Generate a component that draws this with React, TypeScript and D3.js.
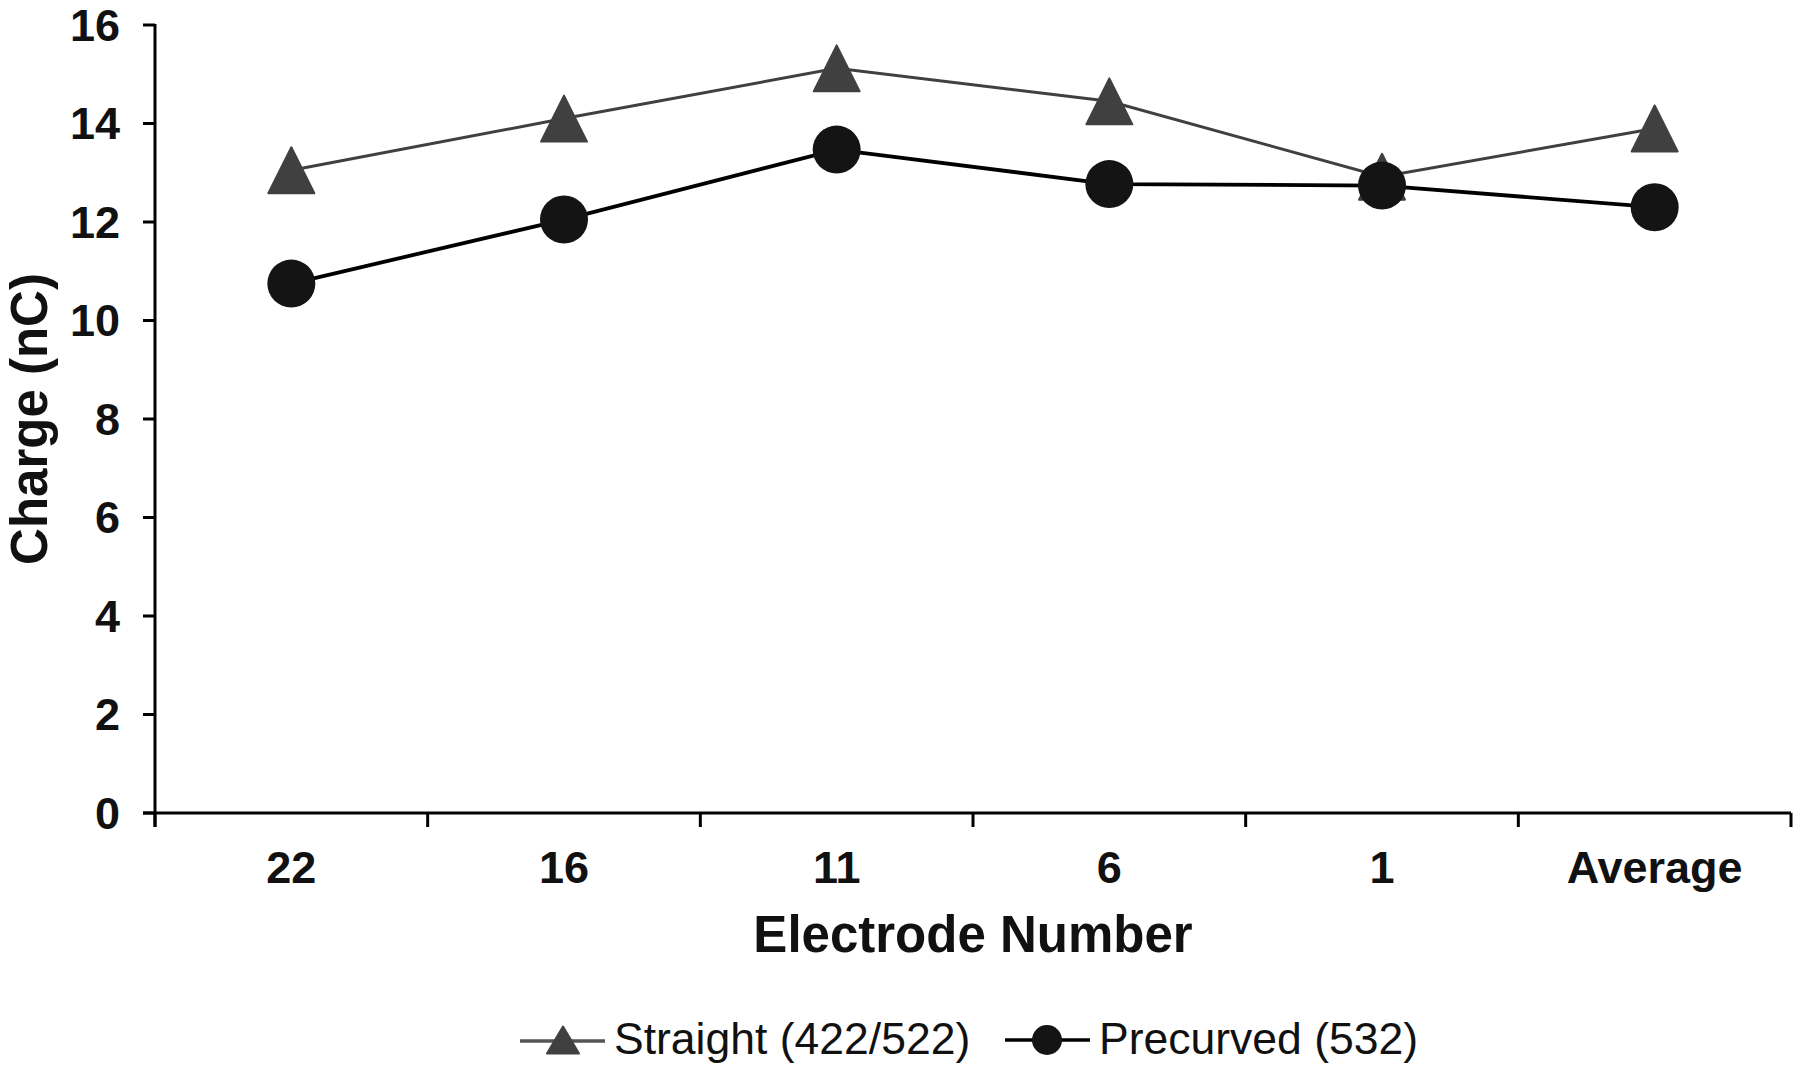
import React from "react";
import * as d3 from "d3";

const categories = ["22", "16", "11", "6", "1", "Average"];
const straightValues = [13.05, 14.1, 15.12, 14.45, 12.92, 13.9];
const precurvedValues = [10.75, 12.05, 13.47, 12.77, 12.74, 12.3];
const yTicks = [0, 2, 4, 6, 8, 10, 12, 14, 16];
const seriesNames = ["Straight (422/522)", "Precurved (532)"];

const W = 1800;
const H = 1070;
const left = 155;
const right = 1791;
const top = 25;
const bottom = 813;

const FONT = "'Liberation Sans', Arial, Helvetica, sans-serif";
const STRAIGHT_COLOR = "#404040";
const PRECURVED_COLOR = "#141414";

function trianglePath(cx: number, cy: number, hw: number, hh: number) {
  return `M${cx},${cy - hh} L${cx + hw},${cy + hh} L${cx - hw},${cy + hh} Z`;
}

export default function App() {
  const x = d3.scaleBand<string>().domain(categories).range([left, right]).padding(0);
  const y = d3.scaleLinear().domain([0, 16]).range([bottom, top]);
  const cx = (c: string) => (x(c) as number) + x.bandwidth() / 2;

  const line = d3
    .line<[string, number]>()
    .x((d) => cx(d[0]))
    .y((d) => y(d[1]));

  const sData: [string, number][] = categories.map((c, i) => [c, straightValues[i]]);
  const pData: [string, number][] = categories.map((c, i) => [c, precurvedValues[i]]);

  const boundaries = [...categories.map((c) => x(c) as number), right];

  return (
    <svg
      width={W}
      height={H}
      style={{ position: "absolute", left: 0, top: 0, background: "#fff" }}
      fontFamily={FONT}
    >
      <rect x={0} y={0} width={W} height={H} fill="#fff" />

      {/* Y axis */}
      <line x1={left} x2={left} y1={top - 1} y2={bottom + 14} stroke="#000" strokeWidth={3} />
      {yTicks.map((t) => (
        <g key={"yt" + t}>
          <line x1={left - 12} x2={left} y1={y(t)} y2={y(t)} stroke="#000" strokeWidth={3} />
          <text
            x={120}
            y={y(t)}
            textAnchor="end"
            dominantBaseline="central"
            fontSize={45}
            fontWeight="bold"
            fill="#111"
          >
            {t}
          </text>
        </g>
      ))}

      {/* X axis */}
      <line x1={left - 12} x2={right} y1={bottom} y2={bottom} stroke="#000" strokeWidth={3} />
      {boundaries.map((b, i) => (
        <line key={"xt" + i} x1={b} x2={b} y1={bottom} y2={bottom + 14} stroke="#000" strokeWidth={3} />
      ))}
      {categories.map((c) => (
        <text
          key={"xl" + c}
          x={cx(c)}
          y={883}
          textAnchor="middle"
          fontSize={45}
          fontWeight="bold"
          fill="#111"
        >
          {c}
        </text>
      ))}

      {/* Axis titles */}
      <text x={(left + right) / 2} y={952} textAnchor="middle" fontSize={51} fontWeight="bold" fill="#111">
        Electrode Number
      </text>
      <text
        transform={`translate(${47},${(top + bottom) / 2}) rotate(-90)`}
        textAnchor="middle"
        fontSize={51}
        fontWeight="bold"
        fill="#111"
      >
        Charge (nC)
      </text>

      {/* Lines */}
      <path d={line(sData) as string} fill="none" stroke={STRAIGHT_COLOR} strokeWidth={3} />
      <path d={line(pData) as string} fill="none" stroke="#000" strokeWidth={3.8} />

      {/* Markers */}
      {sData.map((d, i) => (
        <path
          key={"tri" + i}
          d={trianglePath(cx(d[0]), y(d[1]), 23, 23)}
          fill={STRAIGHT_COLOR}
          stroke={STRAIGHT_COLOR}
          strokeWidth={2}
          strokeLinejoin="round"
        />
      ))}
      {pData.map((d, i) => (
        <circle key={"cir" + i} cx={cx(d[0])} cy={y(d[1])} r={24} fill={PRECURVED_COLOR} />
      ))}

      {/* Legend */}
      <g>
        <line x1={520} x2={605} y1={1041} y2={1041} stroke="#555" strokeWidth={3.5} />
        <path
          d={trianglePath(563, 1040, 16, 13.5)}
          fill={STRAIGHT_COLOR}
          stroke={STRAIGHT_COLOR}
          strokeWidth={2}
          strokeLinejoin="round"
        />
        <text x={614} y={1054} fontSize={44.5} fill="#111">
          {seriesNames[0]}
        </text>

        <line x1={1005} x2={1090} y1={1040} y2={1040} stroke="#000" strokeWidth={3.5} />
        <circle cx={1047} cy={1040} r={15} fill={PRECURVED_COLOR} />
        <text x={1099} y={1054} fontSize={44.5} fill="#111">
          {seriesNames[1]}
        </text>
      </g>
    </svg>
  );
}
